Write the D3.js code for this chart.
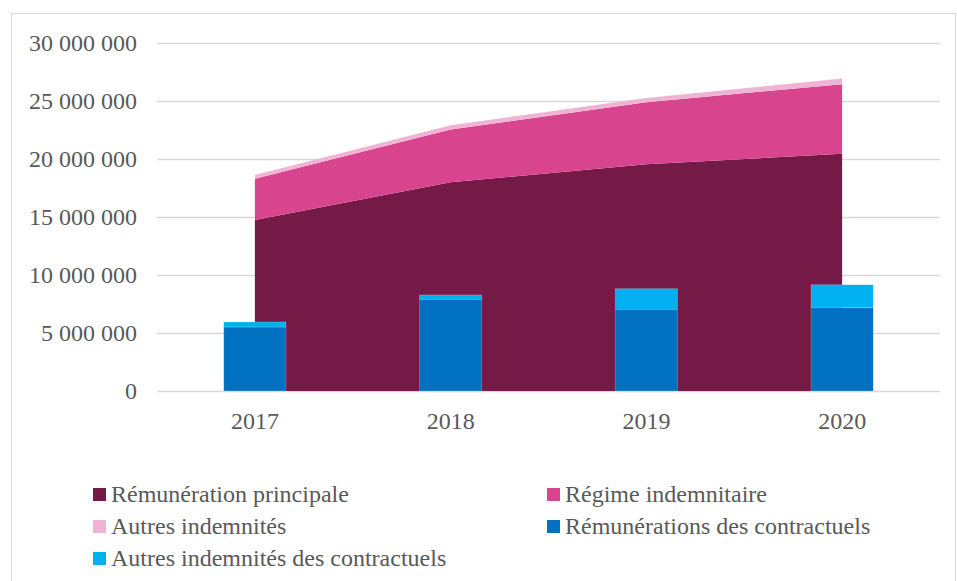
<!DOCTYPE html>
<html>
<head>
<meta charset="utf-8">
<script src="https://cdn.jsdelivr.net/npm/d3@7"></script>
<style>
  html, body { margin: 0; padding: 0; background: #fff; }
  svg text { font-family: "Liberation Serif", "Times New Roman", serif; }
</style>
</head>
<body>
<script>
const WIDTH = 957;
const HEIGHT = 581;
const MARGIN = { top: 43, right: 17, bottom: 190, left: 157 };

// data
const years = ["2017", "2018", "2019", "2020"];
const remunerationPrincipale = [14750000, 18000000, 19550000, 20450000];
const regimeIndemnitaire = [3550000, 4550000, 5350000, 6000000];
const autresIndemnites = [330000, 350000, 350000, 500000];
const remContractuels = [5520000, 7900000, 7040000, 7180000];
const autresContractuels = [430000, 380000, 1780000, 1980000];
const yTicks = [0, 5000000, 10000000, 15000000, 20000000, 25000000, 30000000];

const TEXT = "#595959";
const GRID = "#d9d9d9";

const colors = {
  principale: "#751946",
  regime: "#d9448e",
  autres: "#f1b3d3",
  contractuels: "#0070c0",
  autresContr: "#00b0f0",
};

const chartWidth = WIDTH - MARGIN.left - MARGIN.right;
const chartHeight = HEIGHT - MARGIN.top - MARGIN.bottom;

const svg = d3.select("body")
  .append("svg")
  .attr("width", WIDTH)
  .attr("height", HEIGHT);

svg.append("rect")
  .attr("x", 11.5).attr("y", 13.5)
  .attr("width", WIDTH - 13).attr("height", HEIGHT)
  .attr("fill", "#fff")
  .attr("stroke", GRID);

const g = svg.append("g").attr("transform", `translate(${MARGIN.left},${MARGIN.top})`);

const x = d3.scaleBand().domain(years).range([0, chartWidth]).padding(0);
const y = d3.scaleLinear().domain([0, 30000000]).range([chartHeight, 0]);

// gridlines
g.selectAll("line.grid")
  .data(yTicks)
  .join("line")
  .attr("class", "grid")
  .attr("x1", 0).attr("x2", chartWidth)
  .attr("y1", d => Math.round(y(d)) + 0.5).attr("y2", d => Math.round(y(d)) + 0.5)
  .attr("stroke", GRID).attr("stroke-width", 1.3);

// y labels
const fmt = v => d3.format(",")(v).replace(/,/g, " ");
g.selectAll("text.ylab")
  .data(yTicks)
  .join("text")
  .attr("class", "ylab")
  .attr("x", -20)
  .attr("y", d => y(d))
  .attr("dy", "0.35em")
  .attr("text-anchor", "end")
  .attr("font-size", "24px")
  .attr("fill", TEXT)
  .text(fmt);

// stacked area
const rows = years.map((yr, i) => ({
  year: yr,
  principale: remunerationPrincipale[i],
  regime: regimeIndemnitaire[i],
  autres: autresIndemnites[i],
}));
const stack = d3.stack().keys(["principale", "regime", "autres"])(rows);
const cx = d => x(d.data.year) + x.bandwidth() / 2;
const area = d3.area()
  .x(cx)
  .y0(d => y(d[0]))
  .y1(d => y(d[1]));

g.selectAll("path.area")
  .data(stack)
  .join("path")
  .attr("class", "area")
  .attr("d", area)
  .attr("fill", d => colors[d.key]);

// stacked bars
const barRows = years.map((yr, i) => ({
  year: yr,
  contractuels: remContractuels[i],
  autresContr: autresContractuels[i],
}));
const barStack = d3.stack().keys(["contractuels", "autresContr"])(barRows);
const barW = x.bandwidth() * 0.318;

g.selectAll("g.bars")
  .data(barStack)
  .join("g")
  .attr("class", "bars")
  .attr("fill", d => colors[d.key])
  .selectAll("rect")
  .data(d => d)
  .join("rect")
  .attr("x", d => x(d.data.year) + x.bandwidth() / 2 - barW / 2)
  .attr("y", d => y(d[1]))
  .attr("width", barW)
  .attr("height", d => y(d[0]) - y(d[1]))
  .attr("stroke", "#ffffff")
  .attr("stroke-opacity", 0.25)
  .attr("stroke-width", 0.8);

// x axis labels
g.selectAll("text.xlab")
  .data(years)
  .join("text")
  .attr("class", "xlab")
  .attr("x", d => x(d) + x.bandwidth() / 2)
  .attr("y", chartHeight + 38)
  .attr("text-anchor", "middle")
  .attr("font-size", "24px")
  .attr("fill", TEXT)
  .text(d => d);

// legend
const legendEntries = [
  { label: "Rémunération principale", color: colors.principale, col: 0, row: 0 },
  { label: "Régime indemnitaire", color: colors.regime, col: 1, row: 0 },
  { label: "Autres indemnités", color: colors.autres, col: 0, row: 1 },
  { label: "Rémunérations des contractuels", color: colors.contractuels, col: 1, row: 1 },
  { label: "Autres indemnités des contractuels", color: colors.autresContr, col: 0, row: 2 },
];
const colX = [93, 547];
const legend = svg.append("g");
legend.selectAll("rect")
  .data(legendEntries)
  .join("rect")
  .attr("x", d => colX[d.col])
  .attr("y", d => 488 + d.row * 32)
  .attr("width", 13).attr("height", 13)
  .attr("fill", d => d.color);
legend.selectAll("text")
  .data(legendEntries)
  .join("text")
  .attr("x", d => colX[d.col] + 18)
  .attr("y", d => 502 + d.row * 32)
  .attr("font-size", "24px")
  .attr("fill", TEXT)
  .text(d => d.label);
</script>
</body>
</html>
